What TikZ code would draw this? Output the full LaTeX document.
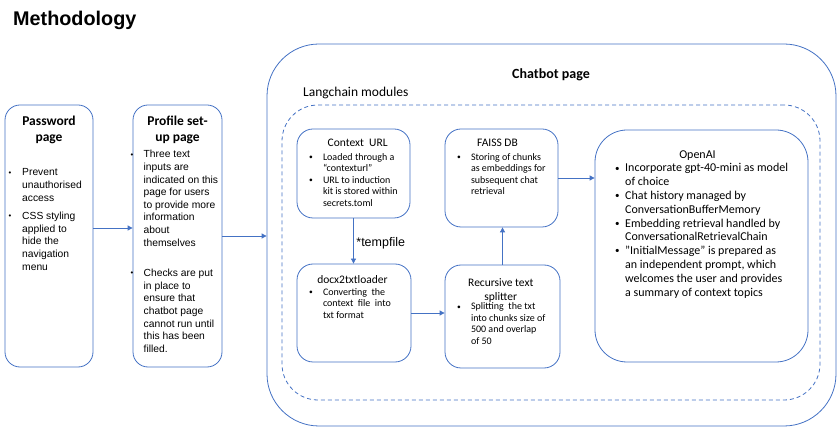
\documentclass[tikz,border=0pt]{standalone}
\usepackage{fontspec}
\usepackage{graphicx}
\setmainfont{Carlito}
\newfontfamily\arialfont{Liberation Sans}
\usetikzlibrary{arrows.meta}
\definecolor{officeblue}{RGB}{68,114,196}
\newcommand{\bu}{\raisebox{0.08em}{\scalebox{0.75}{\textbullet}}}
\newcommand{\txtrows}[2][c]{\begin{tabular}[t]{@{}#1@{}}#2\end{tabular}}
\newcommand{\bitems}[2]{\begin{tabular}[t]{@{}p{#1}@{}l@{}}#2\end{tabular}}
\tikzset{
  pagebox/.style={draw=officeblue,line width=0.8pt,rounded corners=15pt,inner sep=0pt},
  modbox/.style={draw=officeblue,line width=0.8pt,rounded corners=16pt,inner sep=0pt},
  flow/.style={draw=officeblue,line width=0.8pt,-{Triangle[length=5pt,width=5pt]}},
  pagetitle/.style={anchor=base,inner sep=0pt,font=\bfseries\fontsize{13.5}{16}\selectfont},
  pagetext/.style={anchor=base west,inner sep=0pt,font=\arialfont\fontsize{10.3}{12.6}\selectfont},
  modtitle/.style={anchor=base,inner sep=0pt,font=\fontsize{11.5}{14}\selectfont},
  modtext/.style={anchor=base west,inner sep=0pt,font=\fontsize{10}{11.5}\selectfont},
}
\begin{document}
\begin{tikzpicture}[x=1pt,y=-1pt]
  \useasboundingbox (0,0) rectangle (838,427);
  \node[anchor=base west,inner sep=0pt,font=\arialfont\bfseries\fontsize{19.8}{24}\selectfont] (title) at (13,26) {Methodology};

  \node[pagebox,minimum width=88pt,minimum height=262pt] (pw) at (49,236) {};
  \node[pagebox,minimum width=89pt,minimum height=262pt] (prof) at (177.5,236) {};
  \node[draw=officeblue,line width=0.8pt,rounded corners=52pt,inner sep=0pt,minimum width=569pt,minimum height=382pt] (chat) at (551.5,235) {};
  \node[draw=officeblue,line width=0.8pt,dash pattern=on 4pt off 3pt,rounded corners=36pt,inner sep=0pt,minimum width=538pt,minimum height=295pt] (lc) at (551,252.5) {};

  \node[modbox,minimum width=113pt,minimum height=89pt] (ctx) at (353.5,173.5) {};
  \node[modbox,minimum width=113pt,minimum height=98pt] (faiss) at (501.5,178) {};
  \node[modbox,minimum width=114pt,minimum height=98pt] (docx) at (354,313) {};
  \node[modbox,minimum width=115pt,minimum height=103pt] (split) at (502.5,316.5) {};
  \node[modbox,rounded corners=32pt,minimum width=213pt,minimum height=232pt] (oai) at (701.5,246) {};

  \node[pagetitle] (pwtitle) at (49,126) {\txtrows{Password\\page}};
  \node[pagetext] (pwtext) at (8.5,176) {\bitems{13.5pt}{\bu & Prevent\\ & unauthorised\\ & access\\[6pt]
    \bu & CSS styling\\ & applied to\\ & hide the\\ & navigation\\ & menu}};
  \node[pagetitle] (proftitle) at (177.5,126) {\txtrows{Profile set-\\up page}};
  \node[pagetext] (proftext) at (130.5,158) {\bitems{13pt}{\bu & Three text\\ & inputs are\\ & indicated on this\\ & page for users\\
    & to provide more\\ & information\\ & about\\ & themselves\\[18pt]
    \bu & Checks are put\\ & in place to\\ & ensure that\\ & chatbot page\\ & cannot run until\\ & this has been\\ & filled.}};

  \node[anchor=base,inner sep=0pt,font=\bfseries\fontsize{14}{16}\selectfont] (chattitle) at (551,79) {Chatbot page};
  \node[anchor=base west,inner sep=0pt,font=\fontsize{13.5}{16}\selectfont] (lctitle) at (303,97) {Langchain modules};

  \node[modtitle] (ctxtitle) at (357.7,147) {Context\ \ URL};
  \node[modtext] (ctxtext) at (308.8,160.5) {\bitems{14pt}{\bu & Loaded through a\\ & “contexturl”\\
    \bu & URL to induction\\ & kit is stored within\\ & secrets.toml}};
  \node[modtitle] (faisstitle) at (497.5,146.5) {FAISS DB};
  \node[modtext] (faisstext) at (456.8,160.5) {\bitems{14pt}{\bu & Storing of chunks\\ & as embeddings for\\
    & subsequent chat\\ & retrieval}};
  \node[modtitle] (docxtitle) at (352.5,284) {docx2txtloader};
  \node[modtext] (docxtext) at (308.8,295.5) {\bitems{14pt}{\bu & Converting\ \ the\\ & context\ \ file\ \ into\\ & txt format}};
  \node[modtitle] (splittitle) at (500.8,286.5) {\txtrows{Recursive text\\splitter}};
  \node[modtext] (splittext) at (456.8,310) {\bitems{14pt}{\bu & Splitting\ \ the txt\\ & into chunks size of\\
    & 500 and overlap\\ & of 50}};
  \node[anchor=base,inner sep=0pt,font=\fontsize{12}{14}\selectfont] (oaititle) at (697.5,159) {OpenAI};
  \node[anchor=base west,inner sep=0pt,font=\fontsize{12}{13.8}\selectfont] (oaitext) at (615,172) {\bitems{10pt}{\bu & Incorporate gpt-40-mini as model\\ & of choice\\
    \bu & Chat history managed by\\ & ConversationBufferMemory\\
    \bu & Embedding retrieval handled by\\ & ConversationalRetrievalChain\\
    \bu & ”InitialMessage” is prepared as\\ & an independent prompt, which\\
    & welcomes the user and provides\\ & a summary of context topics}};

  \draw[flow] ([yshift=8pt]pw.east) -- ([yshift=8pt]prof.west);
  \draw[flow] (prof.east) -- (chat.west |- prof.east);
  \draw[flow] (ctx.south) -- node[anchor=base west,inner sep=0pt,xshift=2.5pt,yshift=-6pt,font=\arialfont\fontsize{12.5}{14}\selectfont] (temp) {*tempfile} (ctx.south |- docx.north);
  \draw[flow] (docx.east) -- (split.west |- docx.east);
  \draw[flow] (split.north) -- (split.north |- faiss.south);
  \draw[flow] (faiss.east) -- (oai.west |- faiss.east);
\end{tikzpicture}
\end{document}
